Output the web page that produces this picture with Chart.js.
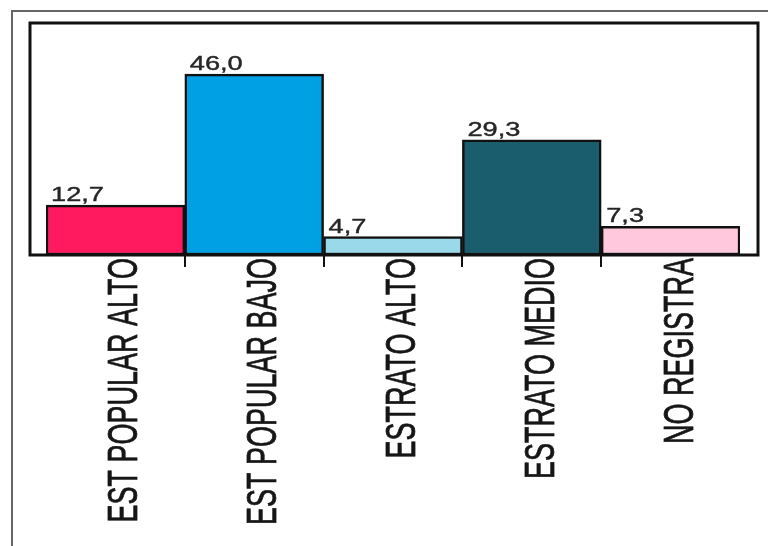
<!DOCTYPE html>
<html>
<head>
<meta charset="utf-8">
<script src="https://cdn.jsdelivr.net/npm/chart.js@4/dist/chart.umd.min.js"></script>
<style>
  html, body { margin: 0; padding: 0; background: #fff; }
  #wrap { width: 768px; height: 546px; }
</style>
</head>
<body>
<div id="wrap"><canvas id="barChart" width="768" height="546"></canvas></div>
<script>
// data
const categories = ['EST POPULAR ALTO', 'EST POPULAR BAJO', 'ESTRATO ALTO', 'ESTRATO MEDIO', 'NO REGISTRA'];
const values = [12.7, 46.0, 4.7, 29.3, 7.3];
const barColors = ['#ff1a60', '#00a0e4', '#99d9ea', '#1a5e6e', '#ffc8dc'];
const yMax = 59;

const FONT = '"Liberation Sans", Arial, sans-serif';

// frame, axis line, value labels and rotated category labels (text is stretched sideways in the original)
const decorations = {
  id: 'decorations',
  afterDatasetsDraw(chart) {
    const { ctx, chartArea: a, scales: { x, y } } = chart;
    ctx.save();

    // outer picture border
    ctx.strokeStyle = '#666';
    ctx.lineWidth = 2;
    ctx.beginPath();
    ctx.moveTo(12, 546);
    ctx.lineTo(12, 11);
    ctx.lineTo(768, 11);
    ctx.stroke();

    // plot box
    ctx.strokeStyle = '#111';
    ctx.lineWidth = 3;
    ctx.strokeRect(a.left - 16, a.top, a.right - a.left + 34, a.bottom - a.top);

    // value labels
    ctx.fillStyle = '#262626';
    ctx.strokeStyle = '#262626';
    ctx.lineWidth = 0.4;
    ctx.font = '20px ' + FONT;
    ctx.textAlign = 'left';
    ctx.textBaseline = 'alphabetic';
    const meta = chart.getDatasetMeta(0);
    meta.data.forEach((bar, i) => {
      const left = bar.x - bar.width / 2;
      const txt = values[i].toFixed(1).replace('.', ',');
      ctx.save();
      ctx.translate(left + 5, y.getPixelForValue(values[i]) - 4);
      ctx.scale(1.36, 1);
      ctx.fillText(txt, 0, 0);
      ctx.strokeText(txt, 0, 0);
      ctx.restore();
    });

    // category labels, rotated to read upwards
    ctx.fillStyle = '#161616';
    ctx.strokeStyle = '#161616';
    ctx.lineWidth = 0.5;
    ctx.font = '27px ' + FONT;
    ctx.textAlign = 'right';
    categories.forEach((c, i) => {
      ctx.save();
      ctx.translate(x.getPixelForValue(i) + 22, a.bottom + 3);
      ctx.rotate(-Math.PI / 2);
      ctx.scale(1, 1.6);
      ctx.fillText(c, 0, 0);
      ctx.strokeText(c, 0, 0);
      ctx.restore();
    });

    ctx.restore();
  }
};

new Chart(document.getElementById('barChart'), {
  type: 'bar',
  data: {
    labels: categories,
    datasets: [{
      data: values,
      backgroundColor: barColors,
      borderColor: '#111',
      borderWidth: 2.5,
      borderSkipped: false,
      barPercentage: 1,
      categoryPercentage: 1
    }]
  },
  options: {
    responsive: false,
    animation: false,
    layout: { padding: { left: 46, right: 28, top: 23, bottom: 279 } },
    plugins: { legend: { display: false }, tooltip: { enabled: false } },
    scales: {
      x: {
        ticks: { display: false },
        border: { display: false },
        grid: {
          offset: true,
          drawOnChartArea: false,
          tickLength: 12,
          lineWidth: 2,
          color: c => (c.index > 0 ? '#111' : 'transparent')
        }
      },
      y: { display: false, min: 0, max: yMax }
    }
  },
  plugins: [decorations]
});
</script>
</body>
</html>
